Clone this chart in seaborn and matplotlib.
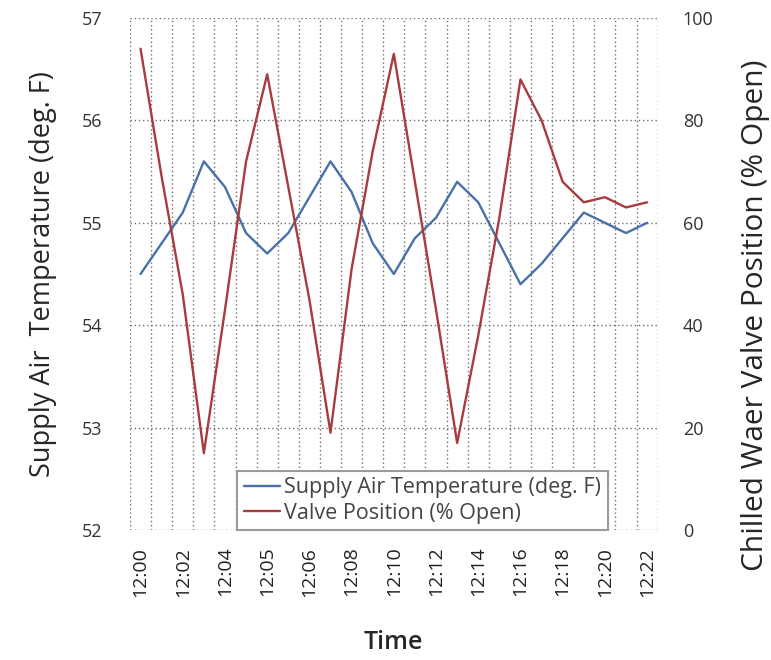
import numpy as np
import pandas as pd
import matplotlib
matplotlib.use("Agg")
import matplotlib.pyplot as plt
import seaborn as sns

# ── Data ──────────────────────────────────────────────────────────────────────
tick_labels = ["12:00", "12:02", "12:04", "12:05", "12:06", "12:08", "12:10",
               "12:12", "12:14", "12:16", "12:18", "12:20", "12:22"]

supply_air_temp = [54.5, 54.8, 55.1, 55.6, 55.35, 54.9, 54.7, 54.9, 55.25, 55.6,
                   55.3, 54.8, 54.5, 54.85, 55.05, 55.4, 55.2, 54.8, 54.4, 54.6,
                   54.85, 55.1, 55.0, 54.9, 55.0]

valve_position = [94, 69, 46, 15, 43, 72, 89, 67, 45, 19, 51, 74, 93, 68, 43, 17,
                  38, 61, 88, 80, 68, 64, 65, 63, 64]

sample = np.arange(len(supply_air_temp))
df = pd.DataFrame({"sample": sample, "temp": supply_air_temp, "valve": valve_position})

BLUE = "#4A70A8"
RED = "#A93A3E"
GRID = "#6e6e6e"

# ── Plot ──────────────────────────────────────────────────────────────────────
sns.set_style("white")
plt.rcParams["font.family"] = ["Open Sans", "DejaVu Sans"]

fig = plt.figure(figsize=(7.71, 6.60), dpi=100)
ax = fig.add_axes([0.1686, 0.197, 0.6844, 0.7757])
ax2 = ax.twinx()

sns.lineplot(data=df, x="sample", y="temp", ax=ax, color=BLUE, linewidth=1.7,
             label="Supply Air Temperature (deg. F)", legend=False)
sns.lineplot(data=df, x="sample", y="valve", ax=ax2, color=RED, linewidth=1.7,
             label="Valve Position (% Open)", legend=False)

ax.set_xlim(-0.5, len(sample) - 0.5)
ax.set_ylim(52, 57)
ax2.set_ylim(0, 100)
ax.set_yticks(range(52, 58))
ax2.set_yticks(range(0, 101, 20))
ax.set_xticks(sample[::2])
ax.set_xticklabels(tick_labels, rotation=90)
ax.set_xticks(np.arange(-0.5, len(sample), 1.0), minor=True)

grid_kw = dict(color=GRID, linestyle=(0, (1, 2)), linewidth=1.0)
ax.grid(axis="y", which="major", **grid_kw)
ax.grid(axis="x", which="minor", **grid_kw)
ax.grid(axis="x", which="major", visible=False)
ax2.grid(False)

for a in (ax, ax2):
    for s in a.spines.values():
        s.set_visible(False)
ax.tick_params(axis="both", which="both", length=0)
ax2.tick_params(axis="y", length=0)
ax.tick_params(axis="y", labelsize=13, pad=20, labelcolor="#333333")
ax.tick_params(axis="x", labelsize=14, pad=12, labelcolor="#222222")
ax2.tick_params(axis="y", labelsize=13, pad=18, labelcolor="#333333")

ax.set_xlabel("Time", fontsize=18, fontweight="semibold", labelpad=24)
ax.set_ylabel("Supply Air  Temperature (deg. F)", fontsize=19.5, labelpad=18)
ax2.set_ylabel("Chilled Waer Valve Position (% Open)", fontsize=21.5)
ax2.yaxis.set_label_coords(1.158, 0.42)

h1, l1 = ax.get_legend_handles_labels()
h2, l2 = ax2.get_legend_handles_labels()
leg = ax2.legend(h1 + h2, l1 + l2, loc="lower left", bbox_to_anchor=(0.203, 0.0),
                 fontsize=15.5, frameon=True, fancybox=False, framealpha=1,
                 edgecolor="#9a9a9a", borderpad=0.3, handlelength=1.7,
                 handletextpad=0.2, labelspacing=0.2, borderaxespad=0.0)
leg.get_frame().set_linewidth(1.5)
for t in leg.get_texts():
    t.set_color("#444444")

fig.savefig("out.png", dpi=100)
